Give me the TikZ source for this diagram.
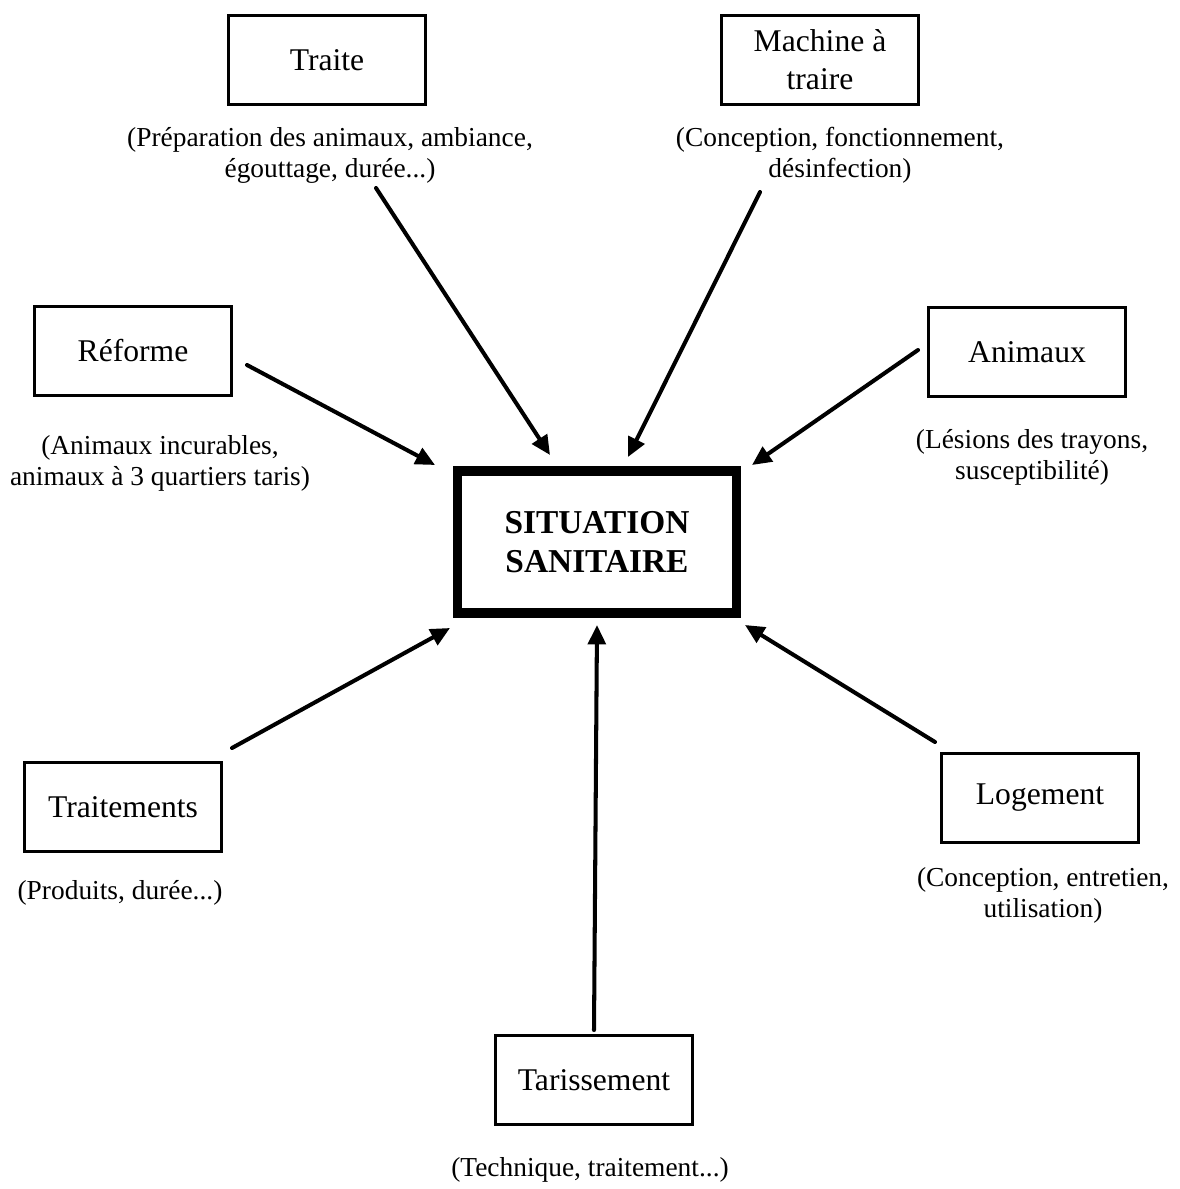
\documentclass[tikz,border=0pt]{standalone}
\usepackage{fontspec}
\setmainfont{Liberation Serif}
\usetikzlibrary{arrows.meta}

\begin{document}
\begin{tikzpicture}[line cap=round,line join=round,>={Triangle[length=11pt,width=10pt]},x=0.02cm,y=-0.02cm]
			\tikzset{
				facteur/.style={draw,line width=1.9pt,line join=miter,minimum width=3.95cm,minimum height=1.78cm,align=center,font=\fontsize{18}{21.5}\selectfont},
				legende/.style={align=center,font=\fontsize{15.6}{17.6}\selectfont},
				fleche/.style={->,line width=2.3pt},
			}
			\useasboundingbox (0,0) rectangle (1179,1189);
			
			\node[draw,line width=5.5pt,line join=miter,minimum width=5.58cm,minimum height=2.84cm,align=center,font=\bfseries\fontsize{19}{22.5}\selectfont] (centre) at (597,542) {SITUATION\\SANITAIRE};
			
			\node[facteur] (traite) at (327,60) {Traite};
			\node[legende] (traiteL) at (330,155) {(Préparation des animaux, ambiance,\\égouttage, durée...)};
			
			\node[facteur] (machine) at (820,60) {Machine à\\traire};
			\node[legende] (machineL) at (840,155) {(Conception, fonctionnement,\\désinfection)};
			
			\node[facteur] (reforme) at (133,351) {Réforme};
			\node[legende] (reformeL) at (160,463) {(Animaux incurables,\\animaux à 3 quartiers taris)};
			
			\node[facteur] (animaux) at (1027,352) {Animaux};
			\node[legende] (animauxL) at (1032,457) {(Lésions des trayons,\\susceptibilité)};
			
			\node[facteur] (traitements) at (123,807) {Traitements};
			\node[legende] (traitementsL) at (120,893) {(Produits, durée...)};
			
			\node[facteur] (logement) at (1040,798) {Logement};
			\node[legende] (logementL) at (1043,895) {(Conception, entretien,\\utilisation)};
			
			\node[facteur] (tarissement) at (594,1080) {Tarissement};
			\node[legende] (tarissementL) at (590,1170) {(Technique, traitement...)};
			
			% extremites des fleches
			\coordinate (d1) at (376,188);   \coordinate (f1) at (550,455);
			\coordinate (d2) at (760,192);   \coordinate (f2) at (628,457);
			\coordinate (d3) at (247,365);   \coordinate (f3) at (435,465);
			\coordinate (d4) at (918,350);   \coordinate (f4) at (752,465);
			\coordinate (d5) at (232,748);   \coordinate (f5) at (450,628);
			\coordinate (d6) at (935,742);   \coordinate (f6) at (745,625);
			\coordinate (d7) at (594,1030);  \coordinate (f7) at (597,625);
			
			\foreach \i in {1,...,7}
				\draw[fleche] (d\i) -- (f\i);
		\end{tikzpicture}
\end{document}
